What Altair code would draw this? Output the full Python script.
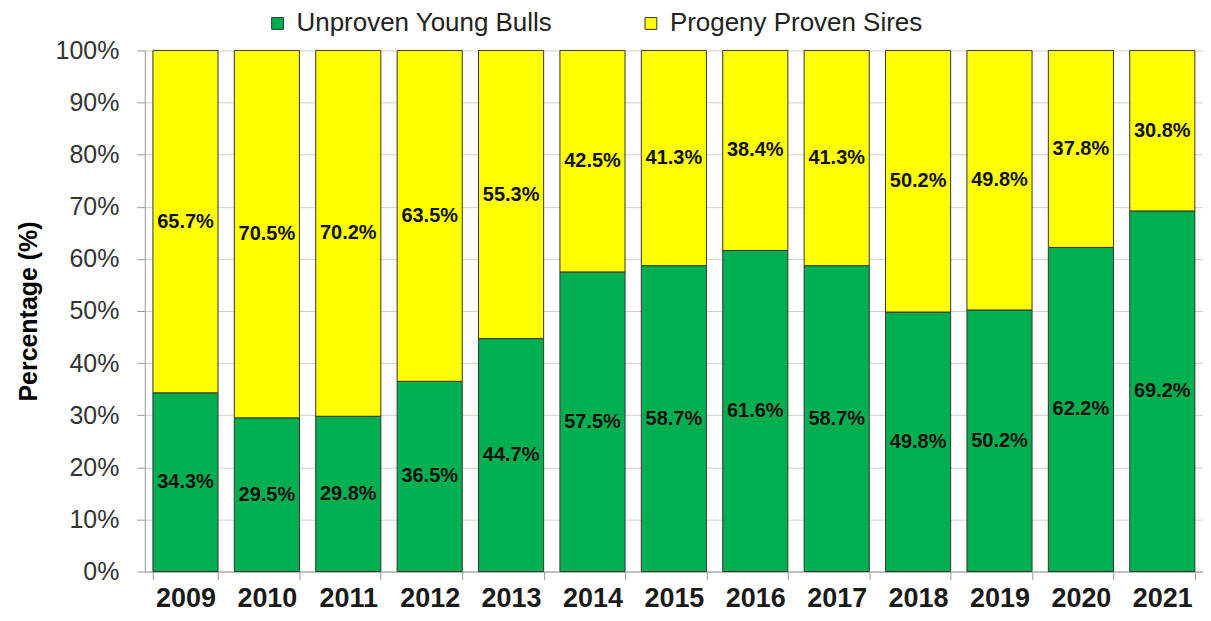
import altair as alt
import pandas as pd

years = ["2009", "2010", "2011", "2012", "2013", "2014", "2015", "2016", "2017", "2018", "2019", "2020", "2021"]
young = [34.3, 29.5, 29.8, 36.5, 44.7, 57.5, 58.7, 61.6, 58.7, 49.8, 50.2, 62.2, 69.2]
proven = [65.7, 70.5, 70.2, 63.5, 55.3, 42.5, 41.3, 38.4, 41.3, 50.2, 49.8, 37.8, 30.8]
series = ["Unproven Young Bulls", "Progeny Proven Sires"]
colors = ["#00B050", "#FFFF00"]

rows = []
for i, y in enumerate(years):
    rows.append({"year": y, "series": series[0], "value": young[i], "ord": 0})
    rows.append({"year": y, "series": series[1], "value": proven[i], "ord": 1})
df = pd.DataFrame(rows)

FONT = "Liberation Sans"

base = alt.Chart(df).transform_stack(
    stack="value", groupby=["year"], as_=["v0", "v1"],
    sort=[alt.SortField("ord", order="ascending")]
).transform_calculate(
    mid="(datum.v0 + datum.v1) / 2",
    lab="format(datum.value, '.1f') + '%'"
)

x_enc = alt.X("year:N", sort=years, title=None,
              scale=alt.Scale(paddingInner=0.2, paddingOuter=0.1),
              axis=alt.Axis(labelAngle=0, labelFont=FONT, labelFontSize=27,
                            labelFontWeight="bold", labelColor="#1a1a1a",
                            tickBand="extent", tickSize=8, tickColor="#999999",
                            domainColor="#999999", labelPadding=6, grid=False))

bars = base.mark_bar(stroke="#333333", strokeWidth=1).encode(
    x=x_enc,
    y=alt.Y("v0:Q", title="Percentage (%)",
            scale=alt.Scale(domain=[0, 100], nice=False),
            axis=alt.Axis(values=list(range(0, 101, 10)),
                          labelExpr="datum.value + '%'",
                          labelFont=FONT, labelFontSize=25, labelColor="#333333",
                          titleFont=FONT, titleFontSize=25, titleFontWeight="bold",
                          titleColor="#000000", titlePadding=14,
                          tickSize=8, tickColor="#999999", domainColor="#999999",
                          labelPadding=18, gridColor="#cfcfcf", gridWidth=1)),
    y2="v1:Q",
    color=alt.Color("series:N", sort=series,
                    scale=alt.Scale(domain=series, range=colors),
                    legend=alt.Legend(title=None, orient="none", direction="horizontal",
                                      legendX=120, legendY=-40,
                                      symbolType="square", symbolSize=140,
                                      symbolStrokeColor="#333333", symbolStrokeWidth=1,
                                      labelFont=FONT, labelFontSize=26, labelColor="#222222",
                                      labelLimit=0, columnPadding=85, labelOffset=6)),
    order=alt.Order("ord:Q")
)

labels = base.mark_text(font=FONT, fontSize=20, fontWeight="bold", color="#111111").encode(
    x=alt.X("year:N", sort=years),
    y=alt.Y("mid:Q"),
    text="lab:N"
)

chart = alt.layer(bars, labels).properties(
    width=1060, height=522,
    autosize=alt.AutoSizeParams(type="none"),
    padding={"left": 137, "top": 42, "right": 0, "bottom": 40}
).configure_view(stroke=None).configure_axisY(domain=True)

chart.save("out.html", embed_options={"renderer": "svg", "actions": False})
